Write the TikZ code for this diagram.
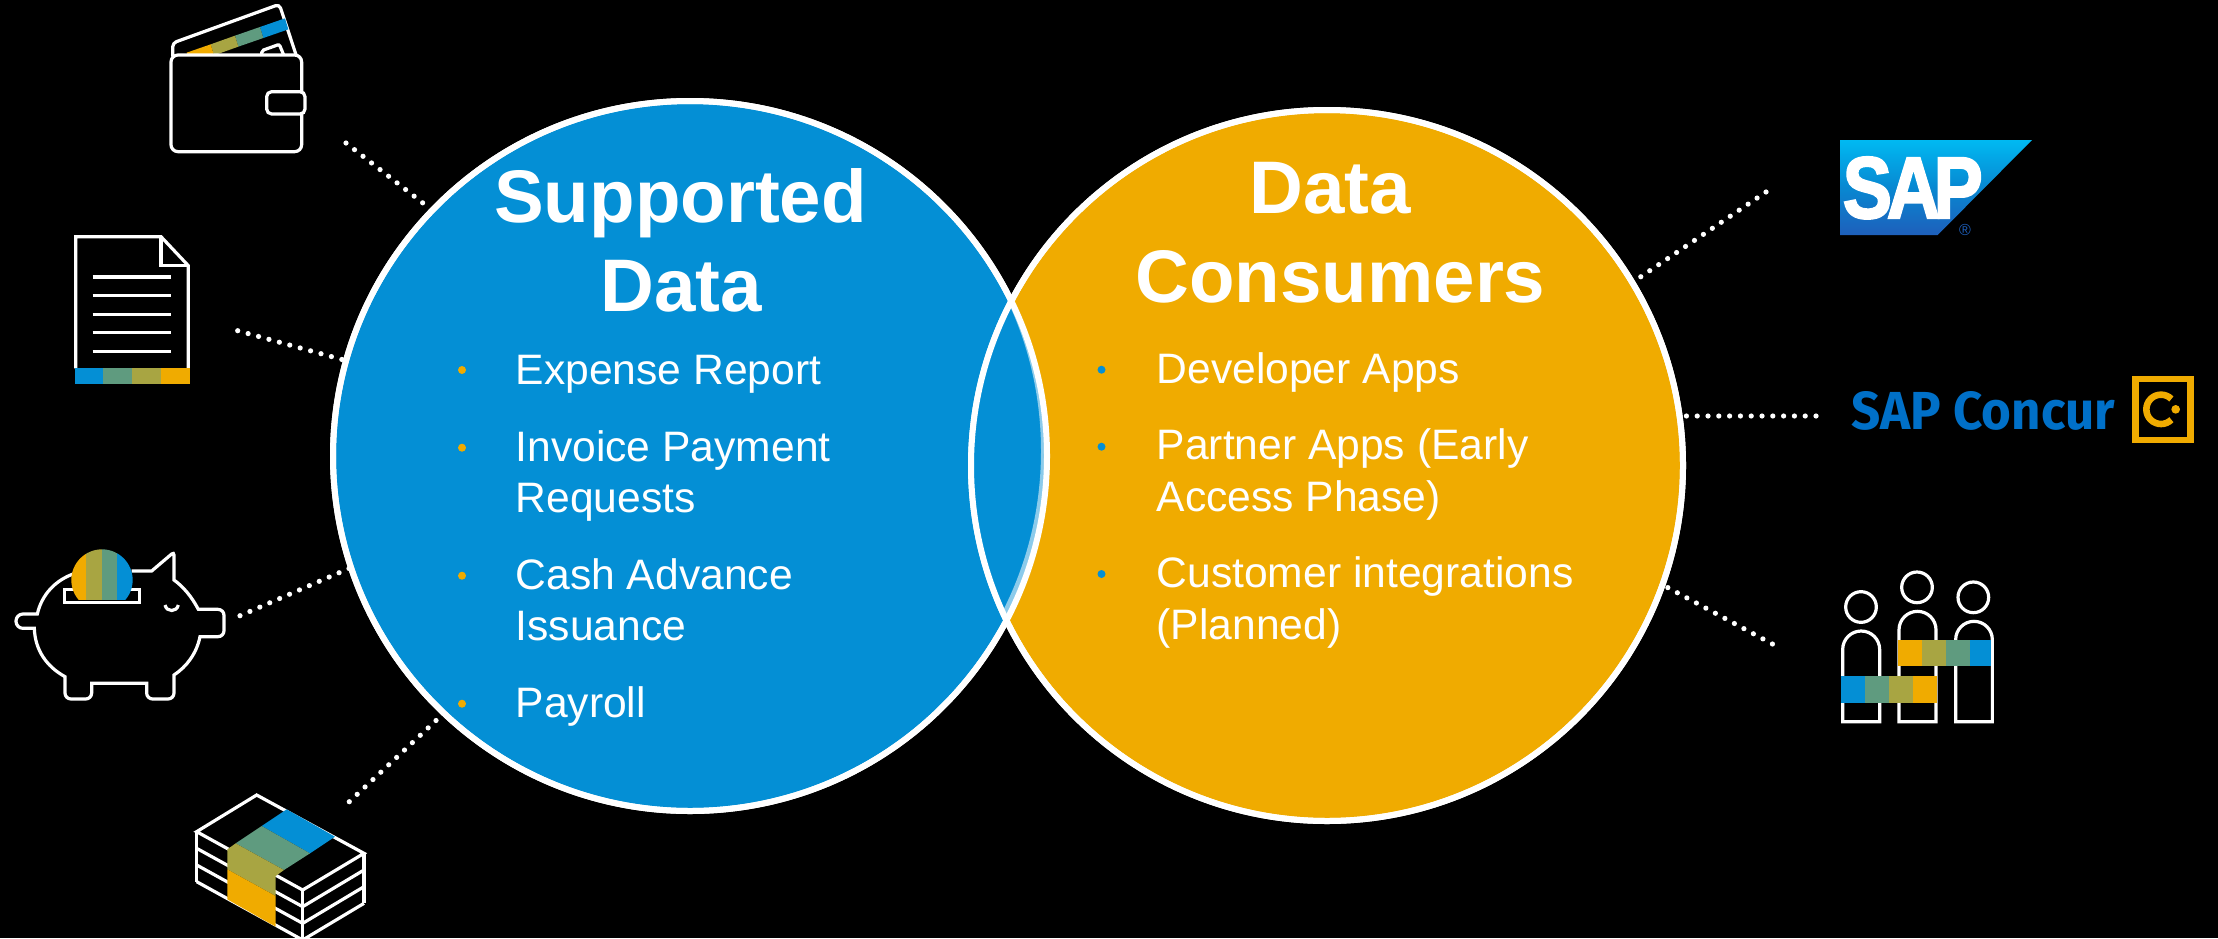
\documentclass[tikz,border=0pt]{standalone}
\usepackage{fontspec}
\usepackage{graphicx}
\setmainfont{Liberation Sans}
\newfontfamily\concurfont{Fira Sans}
\newfontfamily\heavyfont[FakeBold=2.5]{Liberation Sans Bold}
\usetikzlibrary{shapes.geometric,calc}
\definecolor{sapblue}{HTML}{048FD5}
\definecolor{sapgreen}{HTML}{5F9B7F}
\definecolor{sapolive}{HTML}{A8A542}
\definecolor{saporange}{HTML}{F0AB00}
\definecolor{palerim}{HTML}{8CCBEB}
\definecolor{logotop}{HTML}{00B9F2}
\definecolor{logobot}{HTML}{1E5FBB}
\definecolor{concurblue}{HTML}{0070C8}
\tikzset{
  vennblue/.style={ellipse,draw=white,line width=6pt,fill=sapblue,minimum width=714pt,minimum height=710pt,inner sep=0pt},
  vennorange/.style={ellipse,draw=white,line width=6pt,fill=saporange,minimum width=712pt,minimum height=711pt,inner sep=0pt},
  dotlink/.style={draw=white,line width=5.2pt,line cap=round,dash pattern=on 0pt off 10.8pt},
  headline/.style={anchor=base,inner sep=0pt,text=white,font=\fontsize{74.5}{74.5}\selectfont\bfseries},
  bodyline/.style={anchor=base west,inner sep=0pt,text=white,font=\fontsize{42.6}{42.6}\selectfont},
  icon/.style={draw=white,line width=3.2pt,line join=miter},
}
\begin{document}
\begin{tikzpicture}[x=1pt,y=-1pt]
\useasboundingbox (0,0) rectangle (2218,938);
\fill[black] (0,0) rectangle (2218,938);

% Venn circles
\node[vennblue] (blue) at (690,456) {};
\node[vennorange] (orange) at (1327,465.5) {};
\begin{scope}
  \clip (690,456) ellipse [x radius=357pt,y radius=355pt];
  \clip (1327,465.5) ellipse [x radius=356pt,y radius=355.5pt];
  \fill[sapblue] (600,0) rectangle (1200,938);
  \fill[palerim,even odd rule] (690,456) ellipse [x radius=357pt,y radius=355pt]
     (684,451) ellipse [x radius=357pt,y radius=355pt];
\end{scope}
\draw[white,line width=6pt] (690,456) ellipse [x radius=357pt,y radius=355pt];
\draw[white,line width=6pt] (1327,465.5) ellipse [x radius=356pt,y radius=355.5pt];

% link ends at the icons
\coordinate (walletlink) at (346,143);
\coordinate (doclink) at (237.7,330.7);
\coordinate (piglink) at (240,615.7);
\coordinate (cashlink) at (349.3,801.7);
\coordinate (saplink) at (1766,192);
\coordinate (concurlink) at (1816,416);
\coordinate (peoplelink) at (1772.4,644);

\draw[dotlink] (walletlink) -- ($(blue.center)+(-262,-249)$);
\draw[dotlink] (doclink) -- ($(blue.center)+(-348,-96.5)$);
\draw[dotlink] (piglink) -- ($(blue.center)+(-340,112)$);
\draw[dotlink] (cashlink) -- ($(blue.center)+(-247,258)$);
\draw[dotlink] (saplink) -- ($(orange.center)+(306,-183.5)$);
\draw[dotlink] (concurlink) -- ($(orange.center)+(359,-49.5)$);
\draw[dotlink] (peoplelink) -- ($(orange.center)+(336,119.5)$);

% Headings
\node[headline] (h1) at (680.5,222) {Supported};
\node[headline] (h2) at (681.5,311) {Data};
\node[headline] (h3) at (1330.5,213) {Data};
\node[headline] (h4) at (1340.5,302) {Consumers};

% Left list
\foreach \yy in {370,447.7,575.7,703.7} \fill[saporange] (462,\yy) circle (4pt);
\node[bodyline] (l1) at (515.5,384) {Expense Report};
\node[bodyline] (l2) at (515.5,461) {Invoice Payment};
\node[bodyline] (l3) at (515.5,512.5) {Requests};
\node[bodyline] (l4) at (515.5,589) {Cash Advance};
\node[bodyline] (l5) at (515.5,640.5) {Issuance};
\node[bodyline] (l6) at (515.5,717) {Payroll};

% Right list
\foreach \yy in {369.7,446.7,574} \fill[sapblue] (1101.5,\yy) circle (4pt);
\node[bodyline] (r1) at (1156.5,383) {Developer Apps};
\node[bodyline] (r2) at (1156.5,459.5) {Partner Apps (Early};
\node[bodyline] (r3) at (1156.5,511) {Access Phase)};
\node[bodyline] (r4) at (1156.5,587.5) {Customer integrations};
\node[bodyline] (r5) at (1156.5,639) {(Planned)};

% Wallet
\begin{scope}[scale=0.33333]
  \draw[icon,rounded corners=4pt] (518,170) -- (518,129) -- (838,13) -- (890,170);
  \fill[sapblue] (855,55) -- (780,81) -- (790,114) -- (865,88) -- cycle;
  \fill[sapgreen] (780,81) -- (705,107) -- (715,140) -- (790,114) -- cycle;
  \fill[sapolive] (705,107) -- (632,133) -- (642,166) -- (715,140) -- cycle;
  \fill[saporange] (632,133) -- (560,158) -- (570,191) -- (642,166) -- cycle;
  \draw[icon,rounded corners=2pt] (785,170) -- (785,152) -- (838,133) -- (853,170);
  \draw[icon,fill=black,rounded corners=7pt] (513,165) rectangle (905,455);
  \draw[icon,fill=black,rounded corners=5pt] (800,275) rectangle (915,342);
\end{scope}

% Document
\begin{scope}[scale=0.33333]
  \draw[icon] (227,1105) -- (227,710) -- (483,710) -- (565,797) -- (565,1105);
  \draw[icon] (483,710) -- (483,797) -- (565,797);
  \foreach \yy in {831,887,943,998,1054} \draw[icon] (278,\yy) -- (513,\yy);
  \fill[sapblue] (224,1103) rectangle (310,1152);
  \fill[sapgreen] (310,1103) rectangle (396,1152);
  \fill[sapolive] (396,1103) rectangle (483,1152);
  \fill[saporange] (483,1103) rectangle (569,1152);
\end{scope}

% Piggy bank
\begin{scope}[yshift=-520pt,scale=0.33333]
  \draw[icon] (225,160) .. controls (165,180) and (125,225) .. (112,282)
     [rounded corners=7pt] -- (48,282) -- (48,325) [sharp corners] -- (103,325)
     .. controls (105,390) and (140,440) .. (195,470)
     [rounded corners=6pt] -- (195,537) -- (275,537) [sharp corners] -- (275,490) -- (440,490)
     [rounded corners=6pt] -- (440,537) -- (522,537) [sharp corners] -- (522,465)
     .. controls (560,440) and (590,400) .. (600,350)
     [rounded corners=6pt] -- (672,350) -- (672,268) [sharp corners] -- (595,268)
     .. controls (575,230) and (550,200) .. (522,180)
     [rounded corners=3pt] -- (522,96) [sharp corners] -- (455,153) -- (395,153);
  \draw[icon] (495,255) .. controls (500,277) and (530,277) .. (535,255);
  \draw[icon] (193,208) rectangle (418,247);
  \begin{scope}
    \clip (200,240) -- (200,70) -- (410,70) -- (410,240) -- cycle;
    \clip (306,180) circle (92);
    \fill[saporange] (200,80) rectangle (258,240);
    \fill[sapolive] (258,80) rectangle (305,240);
    \fill[sapgreen] (305,80) rectangle (351,240);
    \fill[sapblue] (351,80) rectangle (410,240);
  \end{scope}
\end{scope}

% Banknotes
\begin{scope}[yshift=-520pt,scale=0.33333]
  \draw[icon] (590,935) -- (770,825) -- (1092,1000) -- (908,1110) -- cycle;
  \draw[icon] (590,935) -- (590,1085);
  \draw[icon] (1092,1000) -- (1092,1150);
  \draw[icon] (908,1110) -- (908,1260);
  \foreach \dd in {50,100,150} {
    \draw[icon] (590,935+\dd) -- (908,1110+\dd) -- (1092,1000+\dd);
  }
  \fill[sapblue] (860,868) -- (1005,950) -- (930,1000) -- (785,918) -- cycle;
  \fill[sapgreen] (785,918) -- (930,1000) -- (852,1050) -- (707,970) -- cycle;
  \fill[sapolive] (707,970) -- (852,1050) -- (827,1068) -- (827,1128) -- (682,1048) -- (682,988) -- cycle;
  \fill[saporange] (682,1048) -- (827,1128) -- (827,1220) -- (682,1138) -- cycle;
\end{scope}

% SAP logo
\begin{scope}[xshift=1780pt,yshift=-120pt,scale=0.33333]
  \shade[top color=logotop,bottom color=logobot,middle color=sapblue!85!logobot]
     (180,60) -- (756,60) -- (473,345) -- (180,345) -- cycle;
\end{scope}
\node[anchor=base west,inner sep=0pt,text=white] (saptext) at (1842.5,218)
  {\resizebox{140pt}{61pt}{\heavyfont S\kern-.07em A\kern-.09em P}};
\node[anchor=center,inner sep=0pt,text=logobot,font=\fontsize{16}{16}\selectfont] (regmark) at (1965,229.5) {®};

% SAP Concur logo
\node[anchor=base west,inner sep=0pt,text=concurblue] (concurtext) at (1851.5,429.5)
  {\resizebox{263pt}{38pt}{\concurfont\bfseries SAP Concur}};
\begin{scope}[xshift=1780pt,yshift=-120pt,scale=0.33333]
  \draw[saporange,line width=6.8pt] (1067,777) rectangle (1232,960);
  \draw[saporange,line width=6.6pt] (1143,868) ++(45:44) arc (45:315:44);
  \fill[saporange] (1187,868) circle (13);
\end{scope}

% People
\begin{scope}[xshift=1780pt,yshift=-550pt,scale=0.33333]
  \draw[icon] (243,171) circle (46);
  \draw[icon] (411,112) circle (46);
  \draw[icon] (580,142) circle (46);
  \draw[icon] (188,515) -- (188,298.5) arc (180:360:55.5) -- (299,515) -- cycle;
  \draw[icon] (357,515) -- (357,239.5) arc (180:360:55.5) -- (468,515) -- cycle;
  \draw[icon] (527,515) -- (527,269) arc (180:360:55) -- (637,515) -- cycle;
  \fill[saporange] (353,270) rectangle (425,348);
  \fill[sapolive] (425,270) rectangle (497,348);
  \fill[sapgreen] (497,270) rectangle (569,348);
  \fill[sapblue] (569,270) rectangle (632,348);
  \fill[sapblue] (184,379) rectangle (256,458);
  \fill[sapgreen] (256,379) rectangle (328,458);
  \fill[sapolive] (328,379) rectangle (400,458);
  \fill[saporange] (400,379) rectangle (472,458);
\end{scope}
\end{tikzpicture}
\end{document}
